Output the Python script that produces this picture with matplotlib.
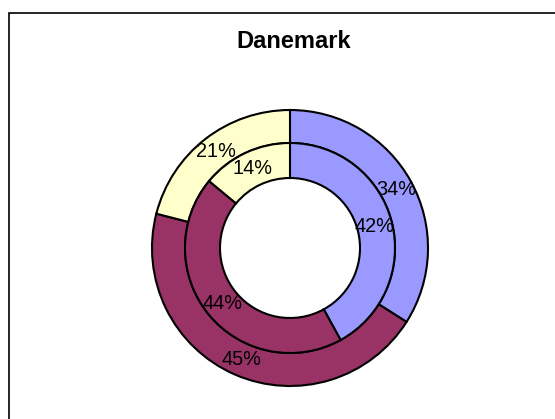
import matplotlib
matplotlib.use("Agg")
import matplotlib.pyplot as plt
from matplotlib.patches import Rectangle

plt.rcParams['font.family'] = ['Liberation Sans', 'DejaVu Sans']

title = "Danemark"
categories = ["A", "B", "C"]
outer_values = [34, 45, 21]
inner_values = [42, 44, 14]
colors = ["#9999FF", "#993366", "#FFFFCC"]

W, H = 555, 419
fig = plt.figure(figsize=(W / 100, H / 100), dpi=100)
ax = fig.add_axes([0, 0, 1, 1])

cx, cy = 290, H - 248
r_out, r_mid, r_in = 138, 105, 70

wp = dict(edgecolor="black", linewidth=1.5)
ax.pie(outer_values, radius=r_out, center=(cx, cy), colors=colors, startangle=90,
       counterclock=False, wedgeprops=dict(width=r_out - r_mid, **wp),
       autopct="%d%%", pctdistance=(r_out + r_mid) / 2 / r_out,
       textprops=dict(fontsize=14.3, color="black"))
ax.pie(inner_values, radius=r_mid, center=(cx, cy), colors=colors, startangle=90,
       counterclock=False, wedgeprops=dict(width=r_mid - r_in, **wp),
       autopct="%d%%", pctdistance=(r_mid + r_in) / 2 / r_mid,
       textprops=dict(fontsize=14.3, color="black"))

ax.set_xlim(0, W)
ax.set_ylim(0, H)
ax.set_aspect("equal")
ax.axis("off")

ax.add_patch(Rectangle((9, -10), W + 20, H - 13 + 10, fill=False, edgecolor="black",
                       linewidth=1.2, clip_on=False))

ax.text(293.5, H - 41, title, ha="center", va="center", fontsize=17, fontweight="bold")

fig.savefig("out.png", dpi=100)
